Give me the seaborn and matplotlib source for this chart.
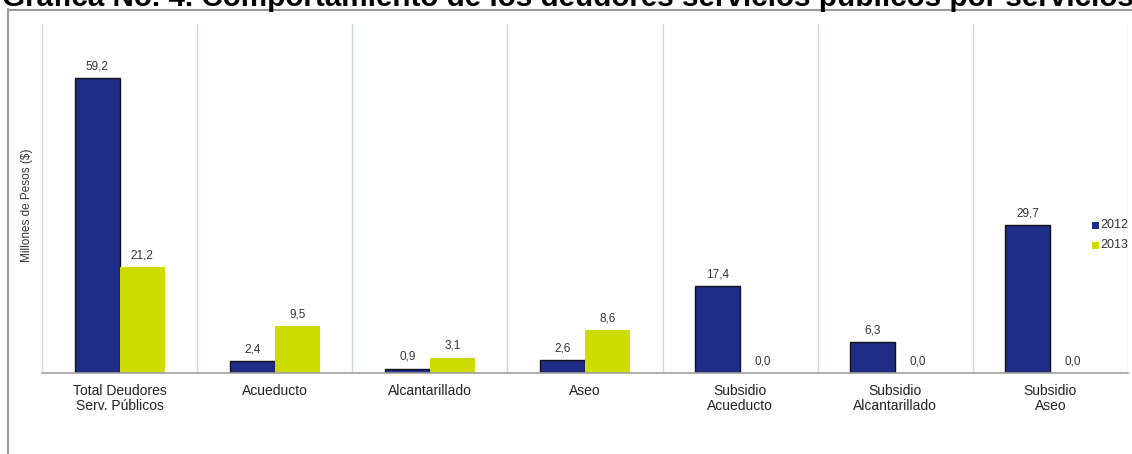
import matplotlib
matplotlib.use("Agg")
import matplotlib.pyplot as plt
import seaborn as sns
import pandas as pd
from matplotlib.patches import Rectangle

categories = ["Total Deudores\nServ. Públicos", "Acueducto", "Alcantarillado", "Aseo",
              "Subsidio\nAcueducto", "Subsidio\nAlcantarillado", "Subsidio\nAseo"]
values_2012 = [59.2, 2.4, 0.9, 2.6, 17.4, 6.3, 29.7]
values_2013 = [21.2, 9.5, 3.1, 8.6, 0.0, 0.0, 0.0]
series = ["2012", "2013"]
title = "Gráfica No. 4. Comportamiento de los deudores servicios públicos por servicios"
ylabel = "Millones de Pesos ($)"

df = pd.DataFrame({
    "cat": categories * 2,
    "year": [series[0]] * len(categories) + [series[1]] * len(categories),
    "val": values_2012 + values_2013,
})

sns.set_theme(style="white")
plt.rcParams['font.family'] = ['Liberation Sans', 'DejaVu Sans']

W, H = 1132, 454
fig = plt.figure(figsize=(W / 100, H / 100), dpi=100)
ax = fig.add_axes([42 / W, (H - 373) / H, (1128 - 42) / W, (373 - 24) / H])

colors = {"2012": "#1f2d88", "2013": "#cddb00"}
sns.barplot(data=df, x="cat", y="val", hue="year", palette=colors, width=0.58,
            ax=ax, legend=False, saturation=1)

for i, cont in enumerate(ax.containers):
    for p in cont:
        if i == 0:
            p.set_edgecolor("#111111")
            p.set_linewidth(1.0)
        else:
            p.set_edgecolor("none")
    ax.bar_label(cont, labels=[f"{v:.1f}".replace(".", ",") for v in cont.datavalues],
                 padding=4, fontsize=8.5, color="#333333")

ax.set_ylim(0, 70)
ax.set_xlim(-0.5, len(categories) - 0.5)
for b in range(len(categories) + 1):
    ax.axvline(b - 0.5, color="#c9d5e8", lw=1, zorder=0)
for s in ["top", "right", "left"]:
    ax.spines[s].set_visible(False)
ax.spines["bottom"].set_color("#a0a0a0")
ax.spines["bottom"].set_linewidth(1.2)
ax.set_yticks([])
ax.set_xlabel("")
ax.set_ylabel("")
ax.tick_params(axis="x", length=0, labelsize=10, colors="#222222", pad=8)
for t in ax.get_xticklabels():
    t.set_linespacing(1.05)

fig.text(27 / W, 1 - 205 / H, ylabel, rotation=90, ha="center", va="center",
         fontsize=8.5, color="#333333")

# legend
for j, s in enumerate(series):
    y = 1 - (225 + 20 * j) / H
    fig.patches.append(Rectangle((1092 / W, y - 3.5 / H), 7 / W, 7 / H,
                                 transform=fig.transFigure, facecolor=colors[s],
                                 edgecolor="none"))
    fig.text(1100 / W, y, s, ha="left", va="center", fontsize=9, color="#333333")

# outer frame
fig.add_artist(plt.Line2D([8 / W, 8 / W], [0, 1 - 9 / H], transform=fig.transFigure,
                          color="#9a9a9a", lw=1.5))
fig.add_artist(plt.Line2D([8 / W, 1], [1 - 9.5 / H, 1 - 9.5 / H], transform=fig.transFigure,
                          color="#9a9a9a", lw=1.5))

# clipped title (cut off at the top edge, as in the reference)
fig.text(2 / W, 1 - 6 / H, title, ha="left", va="baseline", fontsize=21.3,
         fontweight="bold", color="#000000")

fig.savefig("out.png", dpi=100)
